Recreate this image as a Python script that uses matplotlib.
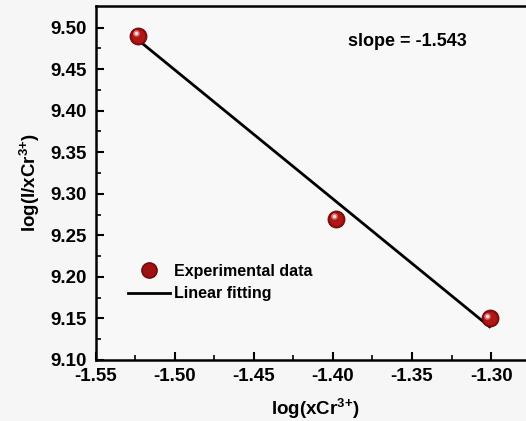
import matplotlib
matplotlib.use("Agg")
import matplotlib.pyplot as plt
import matplotlib.transforms as mtransforms
from matplotlib.lines import Line2D
import numpy as np

plt.rcParams['font.family'] = ['Liberation Sans', 'DejaVu Sans']
plt.rcParams['font.weight'] = 'bold'
plt.rcParams['mathtext.fontset'] = 'custom'
plt.rcParams['mathtext.rm'] = 'Liberation Sans:bold'
plt.rcParams['mathtext.bf'] = 'Liberation Sans:bold'
plt.rcParams['mathtext.it'] = 'Liberation Sans:bold'

# data
x_data = [-1.523, -1.398, -1.301]
y_data = [9.490, 9.270, 9.150]
fit_x = [-1.523, -1.301]
fit_y = [9.485, 9.140]
slope_text = "slope = -1.543"
x_ticks = [-1.55, -1.50, -1.45, -1.40, -1.35, -1.30]
y_ticks = [9.10, 9.15, 9.20, 9.25, 9.30, 9.35, 9.40, 9.45, 9.50]

W, H = 526, 421
fig = plt.figure(figsize=(W / 100, H / 100), dpi=100, facecolor='#f6f6f6')
x0, x1 = -1.55, -1.272
left = 95.5 / W
bottom = (H - 360) / H
height = (360 - 6) / H
width = 440 / W
ax = fig.add_axes([left, bottom, width, height])
ax.set_facecolor('#f8f8f8')

ax.plot(fit_x, fit_y, color='black', lw=2, zorder=2)

# spherical markers
ax.scatter(x_data, y_data, s=150, color='#8e0c0c', edgecolor='#6a0606', linewidths=0.6, zorder=3)
ax.scatter(x_data, y_data, s=90, color='#b01818', linewidths=0, zorder=4)
off = mtransforms.offset_copy(ax.transData, fig=fig, x=-1.6, y=1.8, units='points')
ax.scatter(x_data, y_data, s=22, color='#e07070', linewidths=0, zorder=5, transform=off)
ax.scatter(x_data, y_data, s=6, color='#fbe0e0', linewidths=0, zorder=6, transform=off)

ax.set_xlim(x0, x1)
ax.set_ylim(9.10, 9.526)
ax.set_xticks(x_ticks)
ax.set_xticklabels([f"{v:.2f}" for v in x_ticks])
ax.set_yticks(y_ticks)
ax.set_yticklabels([f"{v:.2f}" for v in y_ticks])
ax.set_xticks(np.arange(-1.525, -1.28, 0.05), minor=True)
ax.set_yticks(np.arange(9.125, 9.52, 0.05), minor=True)
ax.tick_params(which='major', direction='in', length=6, width=1.5, labelsize=13.5)
ax.tick_params(axis='x', which='major', pad=6)
ax.tick_params(axis='y', which='major', pad=6)
ax.tick_params(which='minor', direction='in', length=3.5, width=1.2)
for lab in ax.get_xticklabels() + ax.get_yticklabels():
    lab.set_fontweight('bold')
for s in ['left', 'bottom', 'top']:
    ax.spines[s].set_linewidth(1.8)
ax.spines['right'].set_visible(False)

ax.set_xlabel(r"log(xCr$^{3{+}}$)", fontsize=13.5, fontweight='bold', labelpad=8)
ax.set_ylabel(r"log(I/xCr$^{3{+}}$)", fontsize=13.5, fontweight='bold', labelpad=6)

ax.text(348 / W, (H - 42) / H, slope_text, transform=fig.transFigure, fontsize=13,
        fontweight='bold', va='center', ha='left')

handles = [
    Line2D([], [], ls='none', marker='o', markersize=11, markerfacecolor='#a01212',
           markeredgecolor='#6a0606'),
    Line2D([], [], color='black', lw=2),
]
leg = fig.legend(handles, ["Experimental data", "Linear fitting"], loc='upper left',
                 bbox_to_anchor=(120 / W, (H - 256) / H), frameon=False,
                 prop={'size': 11.5, 'weight': 'bold'}, handlelength=2.6,
                 handletextpad=0.3, labelspacing=0.45, borderpad=0)

fig.savefig("out.png", dpi=100, facecolor=fig.get_facecolor())
